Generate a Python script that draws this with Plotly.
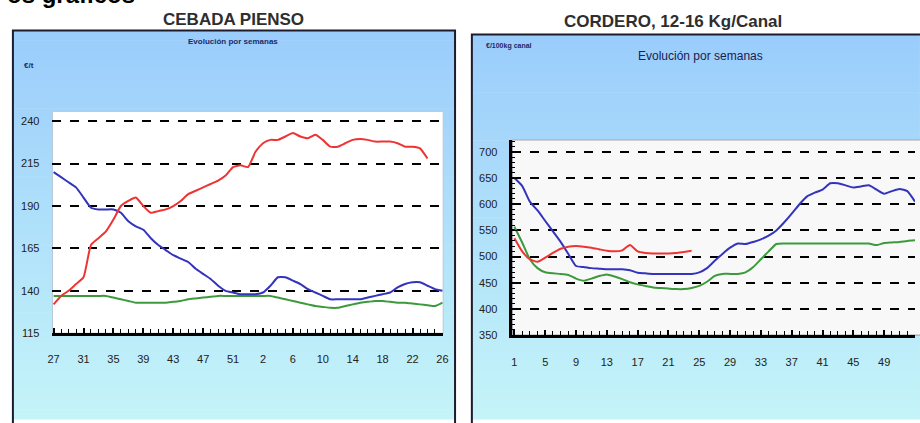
import plotly.graph_objects as go

W, H = 920, 423

# ---------------- DATA ----------------
# Left chart: CEBADA PIENSO (weeks 27..53, 1..26)
cebada_weeks = list(range(27, 54)) + list(range(1, 27))
cebada_tick_labels = ["27", "31", "35", "39", "43", "47", "51", "2", "6", "10", "14", "18", "22", "26"]
cebada_red = [132, 137, 140, 144, 148, 167, 171, 175, 182, 190, 193, 195, 190, 186, 187, 188, 190,
              193, 197, 199, 201, 203, 205, 208, 213, 214, 213, 222, 227, 229, 229, 231, 233, 231,
              230, 232, 229, 225, 225, 227, 229, 229.5, 229, 228, 228, 228, 227, 225, 225, 224, 218,
              None, None]
cebada_blue = [210, 207, 204, 201, 195, 189, 188, 188, 188, 186, 181, 178, 176, 171, 167, 164, 161,
               159, 157, 153, 150, 147, 143, 140, 139, 138, 138, 138, 139, 143, 148, 148, 146, 144,
               141, 139, 137, 135, 135, 135, 135, 135, 136, 137, 138, 139, 142, 144, 145, 145, 143,
               141, 140]
cebada_green = [137, 137, 137, 137, 137, 137, 137, 137, 136, 135, 134, 133, 133, 133, 133, 133, 133.5,
                134, 135, 135.5, 136, 136.5, 137, 137, 137, 137, 137, 137, 137, 137, 136, 135, 134,
                133, 132, 131, 130.5, 130, 130, 131, 132, 133, 133.5, 134, 134, 133.5, 133, 133,
                132.5, 132, 131.5, 131, 133]
cebada_yticks = [115, 140, 165, 190, 215, 240]

# Right chart: CORDERO, 12-16 Kg/Canal (weeks 1..53)
cordero_weeks = list(range(1, 54))
cordero_tick_labels = ["1", "5", "9", "13", "17", "21", "25", "29", "33", "37", "41", "45", "49", "53"]
cordero_blue = [650, 635, 605, 588, 568, 548, 528, 505, 482, 480, 478, 477, 476, 476, 476, 474, 469,
                468, 467, 467, 467, 467, 467, 467, 470, 478, 492, 505, 517, 525, 524, 528, 533, 540,
                550, 565, 582, 600, 615, 622, 628, 640, 640, 636, 632, 634, 636, 628, 620, 625, 629,
                625, 605]
cordero_green = [557, 527, 495, 478, 470, 468, 467, 465, 458, 454, 458, 463, 466, 462, 457, 451, 447,
                 444, 441, 440, 439, 438, 438, 440, 444, 452, 463, 467, 467, 467, 470, 480, 495, 510,
                 524, 525, 525, 525, 525, 525, 525, 525, 525, 525, 525, 525, 525, 522, 526, 527, 528,
                 530, 531]
cordero_red = [535, 510, 495, 490, 498, 507, 515, 519, 520, 519, 517, 514, 511, 510, 512, 522, 510,
               507, 506, 506, 506, 507, 509, 511] + [None] * 29
cordero_yticks = [350, 400, 450, 500, 550, 600, 650, 700]

RED, BLUE, GREEN = "#EE3333", "#3333BB", "#3C9A3C"

# ---------------- HELPERS ----------------
def X(px):
    return px / W

def Y(py):
    return 1 - py / H

FONT = "Liberation Sans, Arial, sans-serif"

fig = go.Figure()

idx = list(range(len(cebada_weeks)))
for vals, col in [(cebada_green, GREEN), (cebada_blue, BLUE), (cebada_red, RED)]:
    fig.add_trace(go.Scatter(x=idx, y=vals, mode="lines", xaxis="x", yaxis="y",
                             line=dict(color=col, width=2, shape="spline", smoothing=0.5),
                             connectgaps=False, showlegend=False, hoverinfo="skip"))
for vals, col in [(cordero_green, GREEN), (cordero_blue, BLUE), (cordero_red, RED)]:
    fig.add_trace(go.Scatter(x=cordero_weeks, y=vals, mode="lines", xaxis="x2", yaxis="y2",
                             line=dict(color=col, width=2, shape="spline", smoothing=0.5),
                             connectgaps=False, showlegend=False, hoverinfo="skip"))

# ---------------- BACKGROUND SHAPES ----------------
shapes = []
top_c = (155, 205, 252)
bot_c = (196, 244, 248)

def gradient(x0, x1, y0, y1, n=40):
    out = []
    for i in range(n):
        t = i / (n - 1)
        c = tuple(int(round(top_c[k] + (bot_c[k] - top_c[k]) * t)) for k in range(3))
        ya = y0 + (y1 - y0) * i / n
        yb = y0 + (y1 - y0) * (i + 1) / n + 0.6
        out.append(dict(type="rect", xref="paper", yref="paper", layer="below",
                        x0=X(x0), x1=X(x1), y0=Y(ya), y1=Y(yb),
                        fillcolor="rgb(%d,%d,%d)" % c, line=dict(width=0)))
    return out

shapes += gradient(8, 455, 31, 425)
shapes += gradient(472, 925, 35, 425)
# plot areas
shapes.append(dict(type="rect", xref="paper", yref="paper", layer="below",
                   x0=X(48), x1=X(443), y0=Y(338), y1=Y(113),
                   fillcolor="white", line=dict(color="#B8C8D8", width=1)))
shapes.append(dict(type="rect", xref="paper", yref="paper", layer="below",
                   x0=X(513), x1=X(930), y0=Y(340), y1=Y(142),
                   fillcolor="#F8F8F8", line=dict(color="#A8A8B0", width=1.2)))
# frames
shapes.append(dict(type="rect", xref="paper", yref="paper", layer="above",
                   x0=X(8), x1=X(455), y0=Y(430), y1=Y(31),
                   fillcolor="rgba(0,0,0,0)", line=dict(color="#1c1c2c", width=2)))
shapes.append(dict(type="rect", xref="paper", yref="paper", layer="above",
                   x0=X(472), x1=X(935), y0=Y(430), y1=Y(35),
                   fillcolor="rgba(0,0,0,0)", line=dict(color="#1c1c2c", width=2)))

annotations = [
    dict(text="<b>os gráficos</b>", xref="paper", yref="paper", x=X(0), y=Y(10),
         xanchor="left", yanchor="bottom", showarrow=False,
         font=dict(family=FONT, size=24, color="black")),
    dict(text="<b>CEBADA PIENSO</b>", xref="paper", yref="paper", x=X(231), y=Y(20),
         xanchor="center", yanchor="middle", showarrow=False,
         font=dict(family=FONT, size=17, color="#2e2e2e")),
    dict(text="<b>CORDERO, 12-16 Kg/Canal</b>", xref="paper", yref="paper", x=X(675), y=Y(22),
         xanchor="center", yanchor="middle", showarrow=False,
         font=dict(family=FONT, size=17, color="#2e2e2e")),
    dict(text="<b>Evolución por semanas</b>", xref="paper", yref="paper", x=X(231), y=Y(42),
         xanchor="center", yanchor="middle", showarrow=False,
         font=dict(family=FONT, size=8, color="#1a2a6a")),
    dict(text="<b>€/t</b>", xref="paper", yref="paper", x=X(17), y=Y(66),
         xanchor="left", yanchor="middle", showarrow=False,
         font=dict(family=FONT, size=8, color="#1a2a6a")),
    dict(text="Evolución por semanas", xref="paper", yref="paper", x=X(703), y=Y(57),
         xanchor="center", yanchor="middle", showarrow=False,
         font=dict(family=FONT, size=12, color="#1a2050")),
    dict(text="<b>€/100kg canal</b>", xref="paper", yref="paper", x=X(484), y=Y(47),
         xanchor="left", yanchor="middle", showarrow=False,
         font=dict(family=FONT, size=7, color="#1a2a6a")),
]

tickfont = dict(family=FONT, size=11, color="#222222")

fig.update_layout(
    width=W, height=H, autosize=False,
    margin=dict(l=0, r=0, t=0, b=0, pad=0),
    paper_bgcolor="white", plot_bgcolor="rgba(0,0,0,0)",
    shapes=shapes, annotations=annotations, showlegend=False,
    xaxis=dict(domain=[X(48), X(443)], anchor="y", range=[-0.15, 52.1],
               tickvals=list(range(0, 53, 4)), ticktext=cebada_tick_labels,
               ticks="inside", ticklen=5, tickwidth=1.5, tickcolor="black",
               minor=dict(dtick=1, tick0=0, ticks="inside", ticklen=4, tickcolor="black", tickwidth=1),
               showline=True, linecolor="black", linewidth=2.5, showgrid=False, zeroline=False,
               tickfont=tickfont, ticklabelstandoff=14),
    yaxis=dict(domain=[Y(338), Y(113)], anchor="x", range=[115, 245.8],
               tickvals=cebada_yticks, showgrid=True, gridcolor="black", griddash="dash",
               gridwidth=1.6, showline=False, zeroline=False, ticks="",
               tickfont=tickfont, ticklabelstandoff=12),
    xaxis2=dict(domain=[X(513), 1.0], anchor="y2", range=[0.74, 53.0],
                tickvals=list(range(1, 54, 4)), ticktext=cordero_tick_labels,
                ticks="inside", ticklen=5, tickwidth=1.5, tickcolor="black",
                minor=dict(dtick=1, tick0=0, ticks="inside", ticklen=4, tickcolor="black", tickwidth=1),
                showline=True, linecolor="black", linewidth=2.5, showgrid=False, zeroline=False,
                tickfont=tickfont, ticklabelstandoff=15),
    yaxis2=dict(domain=[Y(340), Y(142)], anchor="x2", range=[350, 722.6],
                tickvals=cordero_yticks, showgrid=True, gridcolor="black", griddash="dash",
                gridwidth=1.6, showline=True, linecolor="black", linewidth=2.5, zeroline=False,
                ticks="inside", ticklen=5, tickcolor="black",
                minor=dict(dtick=10, ticks="inside", ticklen=3, tickcolor="black", tickwidth=1),
                tickfont=tickfont, ticklabelstandoff=10),
)

fig.write_html("out.html",
               config={"displayModeBar": False},
               post_script="document.body.style.margin='0';document.body.style.padding='0';"
                           "document.body.style.overflow='hidden';"
                           "document.documentElement.style.overflow='hidden';")
